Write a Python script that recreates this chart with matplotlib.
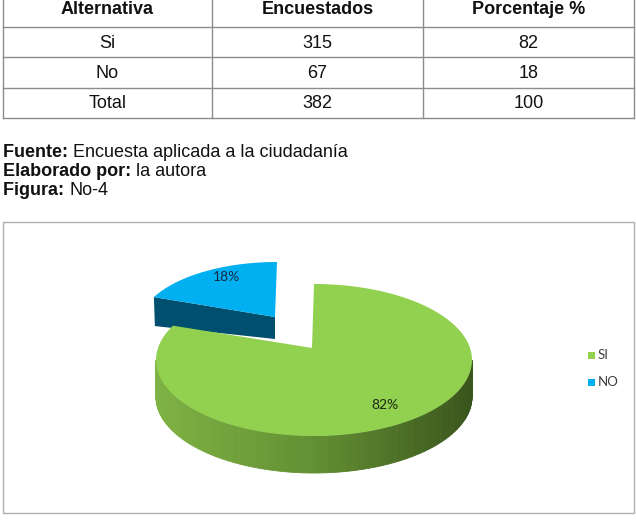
import numpy as np
import matplotlib
matplotlib.use("Agg")
import matplotlib.pyplot as plt
from matplotlib.patches import Polygon, Rectangle
from matplotlib.colors import LinearSegmentedColormap

# Table data
headers = ["Alternativa", "Encuestados", "Porcentaje %"]
alternativas = ["Si", "No", "Total"]
encuestados = [315, 67, 382]
porcentajes = [82, 18, 100]

# Pie data
pie_labels = ["SI", "NO"]
pie_counts = [315, 67]

notes = [("Fuente:", "Encuesta aplicada a la ciudadanía"),
         ("Elaborado por:", "la autora"),
         ("Figura:", "No-4")]

W, H = 636, 525
fig = plt.figure(figsize=(W / 100, H / 100), dpi=100)
ax = fig.add_axes([0, 0, 1, 1])
ax.set_xlim(0, W)
ax.set_ylim(H, 0)
ax.axis("off")

font = "Liberation Sans"
fs = 13
grid_col = "#8c8c8c"

# Table grid
col_x = [3, 212, 423, 634]
row_y = [27, 57, 88, 118]
for y in row_y:
    ax.plot([col_x[0], col_x[-1]], [y, y], color=grid_col, lw=1.0)
for x in col_x:
    ax.plot([x, x], [0, row_y[-1]], color=grid_col, lw=1.0)

col_c = [(col_x[i] + col_x[i + 1]) / 2 for i in range(3)]
for i, h in enumerate(headers):
    ax.text(col_c[i], 10, h, ha="center", va="center", fontsize=fs,
            fontweight="bold", family=font, color="#111111")
row_c = [(row_y[i] + row_y[i + 1]) / 2 for i in range(3)]
for r in range(3):
    vals = [alternativas[r], str(encuestados[r]), str(porcentajes[r])]
    for i, v in enumerate(vals):
        ax.text(col_c[i], row_c[r] + 1, v, ha="center", va="center",
                fontsize=fs, family=font, color="#111111")

# Notes below the table (bold label + regular text on one baseline)
fig.canvas.draw()
renderer = fig.canvas.get_renderer()
for k, (bold, rest) in enumerate(notes):
    y = 157 + k * 19
    t = ax.text(3, y, bold + " ", ha="left", va="baseline", fontsize=fs,
                fontweight="bold", family=font, color="#111111")
    bb = t.get_window_extent(renderer=renderer)
    x_end = ax.transData.inverted().transform((bb.x1, bb.y0))[0]
    ax.text(x_end, y, rest, ha="left", va="baseline", fontsize=fs,
            family=font, color="#111111")

# Chart frame
ax.add_patch(Rectangle((3, 222), 631, 291, fill=False, ec="#b0b0b0", lw=1.0))

# 3D pie
green_top = "#92d050"
blue_top = "#00b0f0"
blue_side = "#004f6f"
side_cmap = LinearSegmentedColormap.from_list(
    "side", ["#7fb244", "#628f32", "#3a551c"])

fracs = np.array(pie_counts) / sum(pie_counts)
bounds = np.concatenate([[0], np.cumsum(fracs)]) * 2 * np.pi  # clockwise from 12 o'clock


def ell(cx, cy, a, b, th):
    return cx + a * np.sin(th), cy - b * np.cos(th)


# SI slice geometry
g_cx, g_cy, g_a, g_b, g_h = 314, 360, 158, 76, 37
g_vx, g_vy = 312, 348
# NO slice (exploded, slightly smaller from perspective)
b_cx, b_cy, b_a, b_b, b_h = 277, 326, 138, 64, 26
b_vx, b_vy = 275, 317

# NO slice: cut face, then top
th = np.linspace(bounds[1], bounds[2], 60)
ox, oy = ell(b_cx, b_cy, b_a, b_b, bounds[1])
ax.add_patch(Polygon([(b_vx, b_vy), (ox, oy), (ox + 1, oy + b_h + 3),
                      (b_vx, b_vy + b_h - 4)],
                     closed=True, fc=blue_side, ec="none"))
xs, ys = ell(b_cx, b_cy, b_a, b_b, th)
ax.add_patch(Polygon(np.column_stack([np.r_[b_vx, xs], np.r_[b_vy, ys]]),
                     closed=True, fc=blue_top, ec="none"))

# SI slice: front side with shading, then top
th_side = np.linspace(np.pi / 2, 3 * np.pi / 2, 181)
sx, sy = ell(g_cx, g_cy, g_a, g_b, th_side)
for i in range(len(th_side) - 1):
    xm = (sx[i] + sx[i + 1]) / 2
    c = side_cmap((xm - (g_cx - g_a)) / (2 * g_a))
    ax.add_patch(Polygon([(sx[i], sy[i]), (sx[i + 1], sy[i + 1]),
                          (sx[i + 1], sy[i + 1] + g_h), (sx[i], sy[i] + g_h)],
                         closed=True, fc=c, ec=c, lw=0.6))
th = np.linspace(bounds[0], bounds[1], 240)
xs, ys = ell(g_cx, g_cy, g_a, g_b, th)
ax.add_patch(Polygon(np.column_stack([np.r_[g_vx, xs], np.r_[g_vy, ys]]),
                     closed=True, fc=green_top, ec="none"))

# Percentage labels
lab_font = "Lato"
mid = (bounds[:-1] + bounds[1:]) / 2
lx, ly = ell(g_cx, g_cy, g_a * 0.86, g_b * 0.7, mid[0])
ax.text(lx, ly, "%d%%" % round(fracs[0] * 100), ha="center", va="center",
        fontsize=10, family=lab_font, color="#1e2a12")
lx, ly = ell(b_cx, b_cy, b_a * 0.7, b_b * 0.9, mid[1])
ax.text(lx, ly, "%d%%" % round(fracs[1] * 100), ha="center", va="center",
        fontsize=10, family=lab_font, color="#152a48")

# Legend
for k, (lab, col) in enumerate(zip(pie_labels, [green_top, blue_top])):
    y = 355 + k * 27
    ax.add_patch(Rectangle((588, y - 3.5), 7, 7, fc=col, ec="none"))
    ax.text(598, y, lab, ha="left", va="center", fontsize=9.5,
            family=lab_font, color="#404040")

fig.savefig("out.png", dpi=100)
